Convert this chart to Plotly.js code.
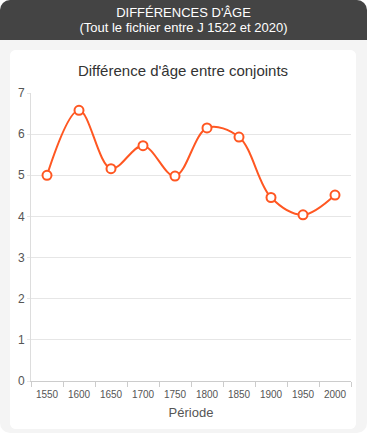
<!DOCTYPE html>
<html><head><meta charset="utf-8">
<script src="https://cdn.plot.ly/plotly-3.0.1.min.js"></script>
<style>
html,body{margin:0;padding:0;background:#fff;}
#wrap{position:absolute;left:0;top:0;width:367px;height:433px;background:#f4f4f4;border-radius:10px;overflow:hidden;}
#head{position:absolute;left:0;top:0;width:367px;height:40px;background:#444;color:#fff;font-family:"Liberation Sans",Arial,sans-serif;font-size:13px;text-align:center;line-height:15px;padding-top:5px;box-sizing:border-box;}
#chart{position:absolute;left:10px;top:50px;width:346px;height:379px;background:#fff;border-radius:6px;overflow:hidden;}
</style></head>
<body>
<div id="wrap">
<div id="head">DIFFÉRENCES D'ÂGE<br>(Tout le fichier entre J 1522 et 2020)</div>
<div id="chart"></div>
</div>
<script>
const periods = ["1550","1600","1650","1700","1750","1800","1850","1900","1950","2000"];
const ageDiff = [5.00, 6.58, 5.16, 5.72, 4.98, 6.15, 5.93, 4.46, 4.04, 4.52];
const chartTitle = "Différence d'âge entre conjoints";
const xTitle = "Période";

Plotly.newPlot("chart", [{
  x: periods, y: ageDiff, type: "scatter", mode: "lines+markers",
  line: {shape: "spline", smoothing: 1, color: "#ff5722", width: 2},
  marker: {size: 9, color: "#fff", line: {color: "#ff5722", width: 2}},
  hoverinfo: "x+y"
}], {
  width: 346, height: 379,
  margin: {l: 21, r: 5, t: 43, b: 48},
  paper_bgcolor: "#fff", plot_bgcolor: "#fff",
  font: {family: "Liberation Sans, Arial, sans-serif", color: "#555", size: 11},
  title: {text: chartTitle, font: {size: 15, color: "#333"}, x: 0.5, xanchor: "center", y: 1 - 21/379, yanchor: "middle", yref: "container"},
  showlegend: false,
  xaxis: {type: "category", tickson: "boundaries", ticks: "outside", ticklen: 5, tickcolor: "#ccc",
    showline: true, linecolor: "#ccc", showgrid: false, zeroline: false,
    tickangle: 0, automargin: false, range: [-0.5, 9.5], ticklabelstandoff: 4,
    tickfont: {size: 10, color: "#555"},
    title: {text: xTitle, font: {size: 13, color: "#555"}, standoff: 8}},
  yaxis: {range: [0, 7], dtick: 1, showline: true, linecolor: "#ddd", gridcolor: "#e6e6e6",
    ticks: "outside", ticklen: 3, tickcolor: "#e6e6e6", zeroline: false, automargin: false,
    tickfont: {size: 12, color: "#555"}}
}, {displayModeBar: false});
</script>
</body></html>
